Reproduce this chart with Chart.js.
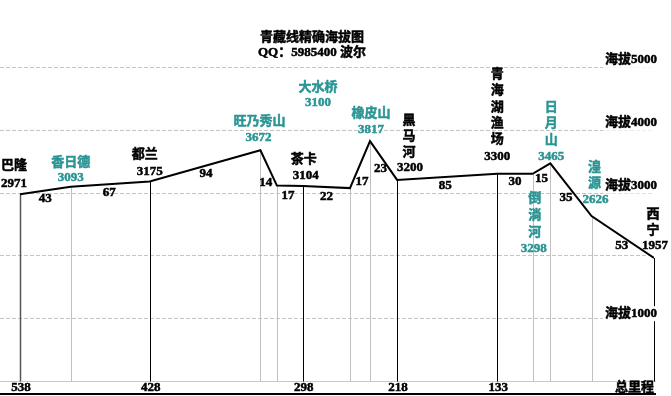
<!DOCTYPE html>
<html>
<head>
<meta charset="utf-8">
<script src="https://cdn.jsdelivr.net/npm/chart.js@4/dist/chart.umd.min.js"></script>
<style>
html,body{margin:0;padding:0;background:#fff;}
#wrap{width:671px;height:396px;position:relative;}
</style>
</head>
<body>
<div id="wrap"><canvas id="c"></canvas></div>
<script>
// ---- data ----
const titleLines = ['青藏线精确海拔图', 'QQ：5985400 波尔'];
const stationNames = ['巴隆','香日德','都兰','旺乃秀山','','茶卡','大水桥','橡皮山','黑马河','青海湖渔场','倒淌河','日月山','湟源','西宁'];
const stationKm    = [538, 495, 428, 334, 320, 298, 258, 241, 218, 133, 103, 88, 53, 0];
const elevation    = [2971, 3093, 3175, 3672, 3110, 3104, 3070, 3817, 3200, 3300, 3298, 3465, 2626, 1957];
const elevationText= ['2971','3093','3175','3672','','3104','3100','3817','3200','3300','3298','3465','2626','1957'];
const mainStation  = [true,false,true,false,false,true,false,false,true,true,false,false,false,true];
const segmentKm    = ['43','67','94','14','17','22','17','23','85','30','15','35','53'];
const axisTicksKm  = [538, 428, 298, 218, 133];
const axisTickText = ['538','428','298','218','133'];
const axisTitle    = '总里程';
const altitudeLevels = [1000, 2000, 3000, 4000, 5000];
const altitudeLabelLevels = [1000, 3000, 4000, 5000];
const altitudePrefix = '海拔';

// ---- style / layout ----
const TEAL = '#2b9494';
const FONT = 'bold 13px "Liberation Serif", "Noto Sans CJK SC", serif';
const nameLayout = [
  {dx:-6, dy:-29}, {dx:0, dy:-24}, {dx:-5, dy:-27}, {dx:-1, dy:-29}, null,
  {dx:1, dy:-26}, {dx:-32, dy:-100}, {dx:1, dy:-28},
  {dx:12, dy:-59, v:16}, {dx:0, dy:-99, v:16.3}, {dx:2, dy:25, v:17},
  {dx:1, dy:-56, v:16.5}, {dx:3, dy:-48, v:16}, {dx:-1, dy:-43, v:16}
];
const valueLayout = [
  {dx:-6, dy:-11}, {dx:0, dy:-9}, {dx:0, dy:-10}, {dx:-2, dy:-13}, null,
  {dx:3, dy:-10}, {dx:-32, dy:-85}, {dx:1, dy:-12},
  {dx:13, dy:-12}, {dx:0, dy:-17}, {dx:1, dy:75},
  {dx:1, dy:-7}, {dx:4, dy:-16}, {dx:1, dy:-12}
];
const segLayout = [
  {dx:0,dy:8},{dx:-1,dy:9},{dx:1,dy:8},{dx:-3,dy:15},{dx:-2,dy:10},{dx:0,dy:10},
  {dx:2,dy:17},{dx:-3,dy:8},{dx:-2,dy:9},{dx:0,dy:8},{dx:0,dy:10},{dx:-5,dy:8},{dx:-1,dy:9}
];

function txt(ctx, s, x, y, color, align) {
  ctx.fillStyle = color;
  ctx.strokeStyle = color;
  ctx.lineWidth = 0.5;
  ctx.textAlign = align || 'center';
  ctx.textBaseline = 'middle';
  ctx.fillText(s, x, y);
  ctx.strokeText(s, x, y);
}

const profilePlugin = {
  id: 'profile',
  beforeDatasetsDraw(chart) {
    const ctx = chart.ctx, xs = chart.scales.x, ys = chart.scales.y, a = chart.chartArea;
    ctx.save();
    ctx.strokeStyle = '#c4c4c4';
    ctx.lineWidth = 1;
    ctx.setLineDash([4, 2]);
    altitudeLevels.forEach(v => {
      const y = Math.round(ys.getPixelForValue(v)) + 0.5;
      ctx.beginPath(); ctx.moveTo(a.left, y); ctx.lineTo(a.right, y); ctx.stroke();
    });
    ctx.setLineDash([]);
    const y0 = Math.round(ys.getPixelForValue(0)) + 0.5;
    ctx.strokeStyle = '#c8c8c8';
    ctx.beginPath(); ctx.moveTo(a.left, y0); ctx.lineTo(a.right + 2, y0); ctx.stroke();
    stationKm.forEach((k, i) => {
      const x = Math.round(xs.getPixelForValue(k)) + 0.5;
      const y = ys.getPixelForValue(elevation[i]);
      ctx.strokeStyle = mainStation[i] ? (i === 0 ? '#555' : '#000') : '#c0c0c0';
      ctx.lineWidth = (i === 0) ? 1.5 : 1;
      ctx.beginPath(); ctx.moveTo(x, y); ctx.lineTo(x, y0); ctx.stroke();
    });
    ctx.strokeStyle = '#000';
    ctx.lineWidth = 2;
    ctx.beginPath(); ctx.moveTo(0, 394); ctx.lineTo(a.right + 2, 394); ctx.stroke();
    ctx.restore();
  },
  afterDatasetsDraw(chart) {
    const ctx = chart.ctx, xs = chart.scales.x, ys = chart.scales.y;
    ctx.save();
    ctx.font = FONT;
    txt(ctx, titleLines[0], 312, 38, '#000');
    txt(ctx, titleLines[1], 312, 53, '#000');
    altitudeLabelLevels.forEach(v => {
      const y = ys.getPixelForValue(v) - (v === 1000 ? 5 : 7);
      const s = altitudePrefix + v;
      const w = ctx.measureText(s).width;
      ctx.fillStyle = '#fff';
      ctx.fillRect(657 - w - 2, y - 7, w + 3, 15);
      txt(ctx, s, 657, y, '#000', 'right');
    });
    stationKm.forEach((k, i) => {
      if (!stationNames[i]) return;
      const px = xs.getPixelForValue(k), py = ys.getPixelForValue(elevation[i]);
      const col = mainStation[i] ? '#000' : TEAL;
      const nl = nameLayout[i], vl = valueLayout[i];
      if (nl.v) {
        Array.from(stationNames[i]).forEach((ch, j) => txt(ctx, ch, px + nl.dx, py + nl.dy + j * nl.v, col));
      } else {
        txt(ctx, stationNames[i], px + nl.dx, py + nl.dy, col);
      }
      txt(ctx, elevationText[i], px + vl.dx, py + vl.dy, col);
    });
    segmentKm.forEach((s, i) => {
      const x1 = xs.getPixelForValue(stationKm[i]), x2 = xs.getPixelForValue(stationKm[i + 1]);
      const y1 = ys.getPixelForValue(elevation[i]), y2 = ys.getPixelForValue(elevation[i + 1]);
      const l = segLayout[i];
      txt(ctx, s, (x1 + x2) / 2 + l.dx, (y1 + y2) / 2 + l.dy, '#000');
    });
    axisTicksKm.forEach((k, i) => {
      txt(ctx, axisTickText[i], xs.getPixelForValue(k) + 1, 388, '#000');
    });
    txt(ctx, axisTitle, 654, 388, '#000', 'right');
    ctx.restore();
  }
};

new Chart(document.getElementById('c'), {
  type: 'line',
  data: {
    datasets: [{
      data: stationKm.map((k, i) => ({x: k, y: elevation[i]})),
      borderColor: '#000',
      borderWidth: 2,
      pointRadius: 0,
      tension: 0,
      fill: false
    }]
  },
  options: {
    responsive: true,
    maintainAspectRatio: false,
    devicePixelRatio: 1,
    animation: false,
    layout: {padding: {left: 0, right: 17, top: 4, bottom: 15}},
    plugins: {legend: {display: false}, tooltip: {enabled: false}, title: {display: false}},
    scales: {
      x: {type: 'linear', reverse: true, min: 0, max: 555, display: false},
      y: {type: 'linear', min: 0, max: 6000, display: false}
    }
  },
  plugins: [profilePlugin]
});
</script>
</body>
</html>
